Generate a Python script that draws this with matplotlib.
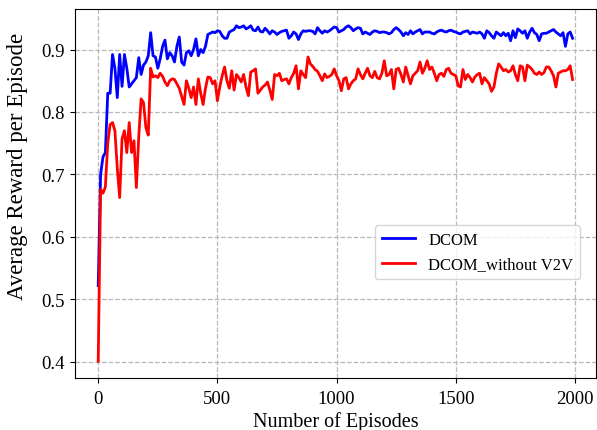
import numpy as np
import matplotlib
matplotlib.use("Agg")
import matplotlib.pyplot as plt

plt.rcParams["font.family"] = ["Liberation Serif", "DejaVu Serif"]

# --- values (one point every 10 episodes) ---
episodes = np.arange(0, 2000, 10)

dcom = [
    0.522, 0.700, 0.728, 0.735, 0.830, 0.830, 0.892, 0.870, 0.823, 0.892,
    0.841, 0.892, 0.870, 0.840, 0.845, 0.850, 0.855, 0.887, 0.860, 0.875,
    0.880, 0.890, 0.927, 0.890, 0.888, 0.870, 0.885, 0.905, 0.915, 0.885,
    0.895, 0.890, 0.880, 0.905, 0.920, 0.880, 0.875, 0.895, 0.898, 0.890,
    0.900, 0.917, 0.890, 0.900, 0.895, 0.905, 0.924, 0.926, 0.928, 0.927,
    0.930, 0.929, 0.922, 0.918, 0.918, 0.928, 0.930, 0.932, 0.938, 0.935,
    0.936, 0.938, 0.933, 0.935, 0.938, 0.931, 0.930, 0.936, 0.929, 0.928,
    0.934, 0.930, 0.925, 0.930, 0.928, 0.924, 0.927, 0.929, 0.930, 0.931,
    0.918, 0.922, 0.928, 0.925, 0.916, 0.925, 0.930, 0.929, 0.930, 0.930,
    0.929, 0.925, 0.935, 0.930, 0.926, 0.930, 0.928, 0.930, 0.933, 0.936,
    0.935, 0.928, 0.930, 0.932, 0.936, 0.938, 0.935, 0.930, 0.933, 0.935,
    0.934, 0.925, 0.928, 0.926, 0.924, 0.928, 0.930, 0.929, 0.927, 0.928,
    0.928, 0.927, 0.925, 0.927, 0.932, 0.935, 0.932, 0.928, 0.922, 0.927,
    0.924, 0.930, 0.925, 0.928, 0.930, 0.932, 0.925, 0.928, 0.928, 0.928,
    0.926, 0.925, 0.928, 0.930, 0.931, 0.929, 0.928, 0.930, 0.931, 0.929,
    0.928, 0.926, 0.925, 0.928, 0.929, 0.930, 0.925, 0.928, 0.927, 0.926,
    0.928, 0.925, 0.918, 0.930, 0.927, 0.922, 0.918, 0.928, 0.925, 0.922,
    0.927, 0.922, 0.926, 0.914, 0.930, 0.919, 0.933, 0.930, 0.926, 0.930,
    0.918, 0.928, 0.934, 0.927, 0.924, 0.914, 0.925, 0.926, 0.926, 0.928,
    0.930, 0.932, 0.928, 0.925, 0.922, 0.927, 0.905, 0.925, 0.928, 0.918,
]

dcom_no_v2v = [
    0.401, 0.676, 0.670, 0.680, 0.750, 0.780, 0.783, 0.770, 0.710, 0.663,
    0.757, 0.770, 0.735, 0.783, 0.735, 0.754, 0.679, 0.760, 0.821, 0.815,
    0.775, 0.763, 0.870, 0.856, 0.858, 0.855, 0.862, 0.857, 0.848, 0.842,
    0.850, 0.853, 0.852, 0.845, 0.838, 0.825, 0.812, 0.850, 0.838, 0.823,
    0.840, 0.812, 0.853, 0.830, 0.812, 0.838, 0.856, 0.855, 0.845, 0.850,
    0.818, 0.840, 0.858, 0.872, 0.850, 0.838, 0.866, 0.835, 0.860, 0.855,
    0.848, 0.860, 0.840, 0.826, 0.864, 0.866, 0.869, 0.830, 0.835, 0.840,
    0.843, 0.848, 0.835, 0.820, 0.860, 0.858, 0.862, 0.850, 0.852, 0.853,
    0.845, 0.855, 0.862, 0.874, 0.837, 0.866, 0.860, 0.855, 0.888, 0.877,
    0.873, 0.868, 0.865, 0.858, 0.850, 0.861, 0.855, 0.857, 0.860, 0.869,
    0.858, 0.850, 0.834, 0.853, 0.855, 0.837, 0.845, 0.850, 0.853, 0.869,
    0.860, 0.853, 0.862, 0.870, 0.858, 0.855, 0.865, 0.855, 0.853, 0.862,
    0.882, 0.858, 0.860, 0.868, 0.837, 0.868, 0.870, 0.860, 0.848, 0.872,
    0.858, 0.845, 0.858, 0.862, 0.866, 0.880, 0.862, 0.870, 0.882, 0.868,
    0.872, 0.862, 0.850, 0.860, 0.862, 0.857, 0.868, 0.870, 0.862, 0.860,
    0.858, 0.842, 0.840, 0.868, 0.852, 0.860, 0.855, 0.848, 0.856, 0.860,
    0.862, 0.845, 0.855, 0.850, 0.845, 0.833, 0.840, 0.862, 0.877, 0.872,
    0.866, 0.868, 0.864, 0.866, 0.874, 0.860, 0.850, 0.874, 0.872, 0.850,
    0.875, 0.872, 0.868, 0.862, 0.860, 0.864, 0.860, 0.863, 0.872, 0.872,
    0.866, 0.858, 0.840, 0.862, 0.864, 0.866, 0.866, 0.868, 0.874, 0.852,
]

xticks = [0, 500, 1000, 1500, 2000]
yticks = [0.4, 0.5, 0.6, 0.7, 0.8, 0.9]

fig = plt.figure(figsize=(5.97, 4.31), dpi=100)
ax = fig.add_axes([74.5 / 597, 1 - 379 / 431, 521.8 / 597, 369 / 431])

ax.plot(episodes, dcom, color="blue", lw=2, label="DCOM")
ax.plot(episodes, dcom_no_v2v, color="red", lw=2, label="DCOM_without V2V")

ax.set_xticks(xticks)
ax.set_yticks(yticks)
ax.tick_params(labelsize=13.5)
ax.tick_params(axis="x", pad=5)
ax.set_xlabel("Number of Episodes", fontsize=14.5, labelpad=3)
ax.set_ylabel("Average Reward per Episode", fontsize=16.5)
ax.yaxis.set_label_coords(-0.089, 0.576)
ax.grid(True, ls="--", color="#b8b8b8", lw=0.9)
ax.legend(loc="lower right", bbox_to_anchor=(0.969, 0.268), borderaxespad=0,
          fontsize=12)

fig.savefig("out.png", dpi=100)
